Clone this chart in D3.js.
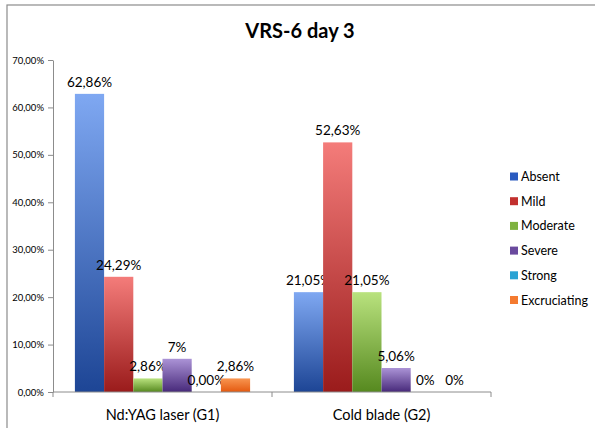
<!DOCTYPE html>
<html>
<head>
<meta charset="utf-8">
<script src="https://cdn.jsdelivr.net/npm/d3@7"></script>
<style>
  html, body { margin: 0; padding: 0; background: #fff; }
  svg { display: block; }
  text { font-family: Lato, "Open Sans", sans-serif; }
</style>
</head>
<body>
<svg id="chart" width="595" height="428"></svg>
<script>
const categories = ["Nd:YAG laser (G1)", "Cold blade (G2)"];
const seriesNames = ["Absent", "Mild", "Moderate", "Severe", "Strong", "Excruciating"];
const absentValues = [62.86, 21.05];
const mildValues = [24.29, 52.63];
const moderateValues = [2.86, 21.05];
const severeValues = [7, 5.06];
const strongValues = [0, 0];
const excruciatingValues = [2.86, 0];
const labelsG1 = ["62,86%", "24,29%", "2,86%", "7%", "0,00%", "2,86%"];
const labelsG2 = ["21,05%", "52,63%", "21,05%", "5,06%", "0%", "0%"];
const yTicks = [0, 10, 20, 30, 40, 50, 60, 70];
const yTickLabels = ["0,00%", "10,00%", "20,00%", "30,00%", "40,00%", "50,00%", "60,00%", "70,00%"];

const seriesValues = [absentValues, mildValues, moderateValues, severeValues, strongValues, excruciatingValues];
const labels = [labelsG1, labelsG2];
const colors = [
  ["#7fa8f2", "#1d4595"],
  ["#f47c7a", "#9a1b1b"],
  ["#b9e27e", "#56891f"],
  ["#ab93d6", "#47297a"],
  ["#5cc0e6", "#1b84b5"],
  ["#f89550", "#e4590f"]
];
const legendColors = ["#2a5bc0", "#c2302e", "#7fb240", "#6a4a9e", "#2aa3d4", "#f47a30"];

const svg = d3.select("#chart");

// outer border
svg.append("rect").attr("x", 7).attr("y", 5).attr("width", 600).attr("height", 440)
  .attr("fill", "none").attr("stroke", "#8c8c8c").attr("stroke-width", 1.2);

const defs = svg.append("defs");
colors.forEach((c, i) => {
  const g = defs.append("linearGradient").attr("id", "grad" + i)
    .attr("x1", 0).attr("y1", 0).attr("x2", 0).attr("y2", 1);
  g.append("stop").attr("offset", "0%").attr("stop-color", c[0]);
  g.append("stop").attr("offset", "100%").attr("stop-color", c[1]);
});

const x0 = d3.scaleBand().domain(categories).range([53, 491]).paddingInner(0).paddingOuter(0);
const x1 = d3.scaleBand().domain(seriesNames).range([0, x0.bandwidth()]).paddingInner(0).paddingOuter(0.75);
const y = d3.scaleLinear().domain([0, 70]).range([392, 60]);

// title
svg.append("text").attr("x", 300).attr("y", 38).attr("text-anchor", "middle")
  .attr("font-size", 20).attr("font-weight", "bold").attr("fill", "#000").text("VRS-6 day 3");

// bars
categories.forEach((cat, ci) => {
  const g = svg.append("g").attr("transform", `translate(${x0(cat)},0)`);
  seriesNames.forEach((s, si) => {
    const v = seriesValues[si][ci];
    if (v > 0) {
      g.append("rect").attr("x", x1(s)).attr("y", y(v))
        .attr("width", x1.bandwidth()).attr("height", y(0) - y(v))
        .attr("fill", `url(#grad${si})`);
    }
    g.append("text").attr("x", x1(s) + x1.bandwidth() / 2).attr("y", y(v) - 7)
      .attr("text-anchor", "middle").attr("font-size", 13.5).attr("fill", "#000")
      .text(labels[ci][si]);
  });
});

// y axis
const yAxis = d3.axisLeft(y).tickValues(yTicks).tickSize(5).tickSizeOuter(0)
  .tickFormat((d, i) => yTickLabels[i]);
const ya = svg.append("g").attr("transform", "translate(53,0)").call(yAxis);
ya.select(".domain").attr("stroke", "#8c8c8c");
ya.selectAll(".tick line").attr("stroke", "#8c8c8c");
ya.selectAll(".tick text").attr("font-size", 9.5).attr("fill", "#000").attr("x", -9)
  .style("font-family", "Lato, sans-serif");

// x axis
const xa = svg.append("g").attr("transform", "translate(0,392)");
xa.append("line").attr("x1", 53).attr("x2", 491).attr("y1", 0).attr("y2", 0).attr("stroke", "#8c8c8c");
[53, x0(categories[1]), 491].forEach(px => {
  xa.append("line").attr("x1", px).attr("x2", px).attr("y1", 0).attr("y2", 5).attr("stroke", "#8c8c8c");
});
categories.forEach(cat => {
  xa.append("text").attr("x", x0(cat) + x0.bandwidth() / 2).attr("y", 28)
    .attr("text-anchor", "middle").attr("font-size", 14.5).attr("fill", "#000").text(cat);
});

// legend
const lg = svg.append("g");
seriesNames.forEach((s, i) => {
  const yy = 176.5 + i * 24.7;
  lg.append("rect").attr("x", 510).attr("y", yy - 4).attr("width", 8).attr("height", 8)
    .attr("fill", legendColors[i]);
  lg.append("text").attr("x", 521).attr("y", yy + 4.5).attr("font-size", 12.5)
    .attr("fill", "#000").text(s);
});
</script>
</body>
</html>
